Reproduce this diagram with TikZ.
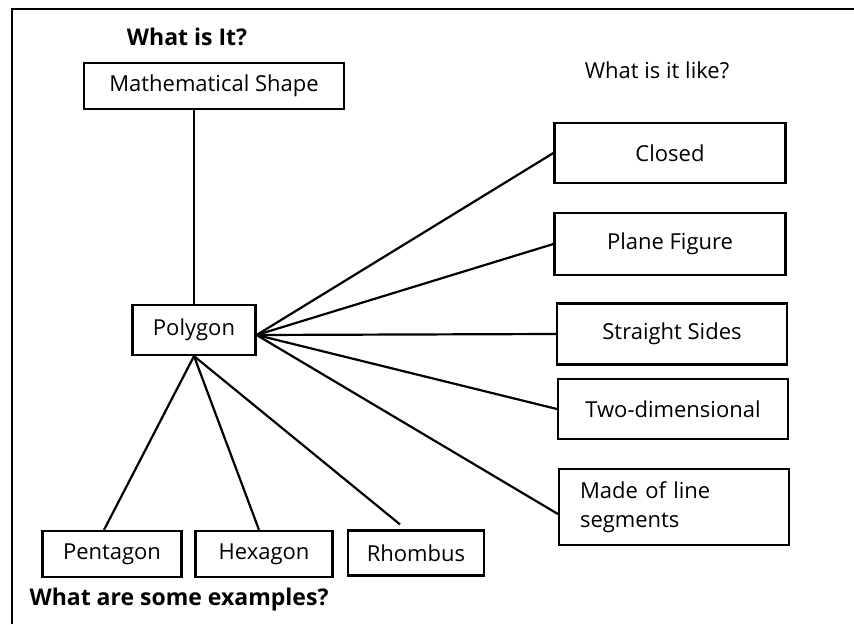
\documentclass[tikz,border=0pt]{standalone}
\usepackage{fontspec}
\setmainfont{Open Sans}
\begin{document}
\begin{tikzpicture}[x=1pt,y=-1pt,
  box/.style={draw, line width=2.2pt, inner sep=0pt, align=center,
    font=\fontsize{22}{29}\selectfont},
  head/.style={font=\bfseries\fontsize{23}{27}\selectfont},
  link/.style={line width=2.2pt}]
\useasboundingbox (0,0) rectangle (854,624);
% page frame (left and top edges)
\draw[line width=2.2pt] (12,624) -- (12,9) -- (854,9);

% headings
\node[head] (h1) at (187,37) {What is It?};
\node[font=\fontsize{22}{26}\selectfont] (h2) at (657,70) {What is it like?};
\node[head] (h3) at (179,600) {What are some examples?};

% concept boxes
\node[box, minimum width=260pt, minimum height=46pt] (math) at (214,86) {Mathematical Shape};
\node[box, minimum width=123pt, minimum height=50pt] (poly) at (194,330) {Polygon};

\node[box, minimum width=231pt, minimum height=60pt] (closed) at (670,153) {Closed};
\node[box, minimum width=231pt, minimum height=62pt] (plane) at (670,244) {Plane Figure};
\node[box, minimum width=230pt, minimum height=61pt] (straight) at (672,334) {Straight Sides};
\node[box, minimum width=230pt, minimum height=60pt] (twod) at (673,409) {Two-dimensional};
\node[box, minimum height=76pt, text width=188pt, inner xsep=21pt, align=left] (seg) at (674,507) {Made of line\\segments};

\node[box, minimum width=139pt, minimum height=46pt] (pent) at (112,554) {Pentagon};
\node[box, minimum width=137pt, minimum height=46pt] (hex) at (264,554) {Hexagon};
\node[box, minimum width=136pt, minimum height=45pt] (rhom) at (416,553) {Rhombus};

% connectors
\draw[link] (poly.north) -- (poly.north |- math.south);
\draw[link] ([yshift=-5pt]poly.east) -- (closed.west);
\draw[link] ([yshift=-5pt]poly.east) -- (plane.west);
\draw[link] ([yshift=-5pt]poly.east) -- (straight.west);
\draw[link] ([yshift=-5pt]poly.east) -- (twod.west);
\draw[link] ([yshift=-5pt]poly.east) -- ([yshift=-7pt]seg.west);
\draw[link] (poly.south) -- ([xshift=-8pt]pent.north);
\draw[link] (poly.south) -- ([xshift=-5pt]hex.north);
\draw[link] (poly.south) -- ([xshift=-16pt,yshift=5pt]rhom.north);
\end{tikzpicture}
\end{document}
